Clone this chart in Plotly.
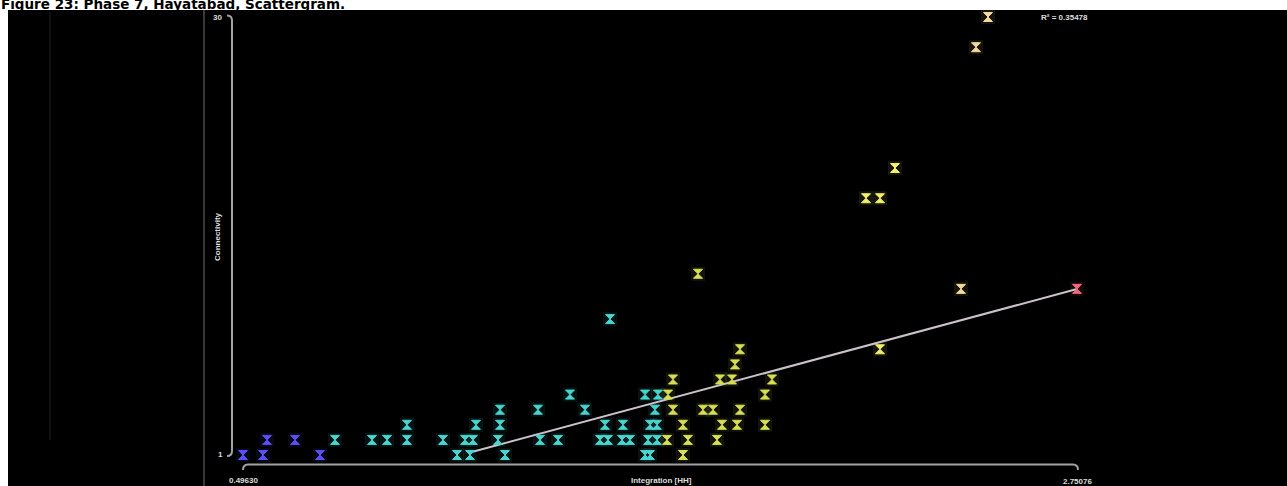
import plotly.graph_objects as go

W, H = 1287, 486

# Integration [HH] of each segment and its connectivity
integration = [
    # connectivity 1
    0.4963, 0.5504, 0.7044, 1.0748, 1.1099, 1.2045, 1.5830, 1.5965, 1.6857,
    # connectivity 2
    0.5612, 0.6369, 0.7450, 0.8450, 0.8856, 0.9396, 1.0369, 1.0964, 1.1180,
    1.1856, 1.2992, 1.3478, 1.4613, 1.4830, 1.5208, 1.5424, 1.5911, 1.6154,
    1.6425, 1.6992, 1.7776,
    # connectivity 3
    0.9396, 1.1261, 1.1910, 1.4749, 1.5235, 1.5965, 1.6154, 1.6857, 1.7911,
    1.8317, 1.9074,
    # connectivity 4
    1.1910, 1.2937, 1.4208, 1.6100, 1.6587, 1.7398, 1.7668, 1.8398,
    # connectivity 5
    1.3802, 1.5830, 1.6181, 1.6452, 1.9074,
    # connectivity 6
    1.6587, 1.7857, 1.8182, 1.9263,
    # connectivity 7 and above
    1.8263, 1.8398, 2.2182, 1.4884, 2.4372, 2.7508, 1.7263, 2.1804, 2.2182,
    2.2588, 2.4777, 2.5102,
]
connectivity = (
    [1] * 9 + [2] * 21 + [3] * 11 + [4] * 8 + [5] * 5 + [6] * 4
    + [7, 8, 8, 10, 12, 12, 13, 18, 18, 20, 28, 30]
)

# Least-squares line as drawn by the scattergram
reg_x = [1.1045, 2.7508]
reg_y = [1.13, 11.99]
r_squared_text = "R² = 0.35478"

x_tick_labels = ["0.49630", "2.75076"]
y_tick_labels = ["30", "1"]
x_title = "Integration [HH]"
y_title = "Connectivity"
title_text = "Figure 23: Phase 7, Hayatabad, Scattergram."

x_min, x_max = min(integration), max(integration)
y_min, y_max = 1, 30

# Screen placement of the data extent (pixels from top-left)
X_PX = (243, 1077)
Y_PX = (455, 17)

x_per_px = (x_max - x_min) / (X_PX[1] - X_PX[0])
y_per_px = (y_max - y_min) / (Y_PX[0] - Y_PX[1])
x_range = [x_min - X_PX[0] * x_per_px, x_min + (W - X_PX[0]) * x_per_px]
y_range = [y_min - (H - Y_PX[0]) * y_per_px, y_min + Y_PX[0] * y_per_px]


def px(x):
    return x / W


def py(y):
    return 1 - y / H


colorscale = [
    [0.00, "#5a4ff2"], [0.10, "#5a4ff2"],
    [0.10, "#46d6cf"], [0.505, "#46d6cf"],
    [0.505, "#d6df52"], [0.70, "#d6df52"],
    [0.70, "#f1f06a"], [0.83, "#f1f06a"],
    [0.83, "#f4d99a"], [0.95, "#f4d99a"],
    [0.95, "#f2667c"], [1.00, "#f2667c"],
]

fig = go.Figure()

# soft halo under each marker
fig.add_trace(go.Scatter(
    x=integration, y=connectivity, mode="markers", hoverinfo="skip",
    marker=dict(symbol="square", size=14, color=integration, colorscale=colorscale,
                cmin=x_min, cmax=x_max, opacity=0.09, line=dict(width=0)),
    showlegend=False,
))

fig.add_trace(go.Scatter(
    x=reg_x, y=reg_y, mode="lines",
    line=dict(color="#cbc2cb", width=2), showlegend=False, hoverinfo="skip",
))

fig.add_trace(go.Scatter(
    x=integration, y=connectivity, mode="markers",
    marker=dict(symbol="hourglass", size=9, color=integration, colorscale=colorscale,
                cmin=x_min, cmax=x_max,
                line=dict(width=1, color=integration, colorscale=colorscale,
                          cmin=x_min, cmax=x_max)),
    showlegend=False,
))

axis_grey = "#a3a3a3"
shapes = [
    # black canvas below the title strip
    dict(type="rect", xref="paper", yref="paper", x0=px(8), x1=1, y0=0, y1=py(10),
         fillcolor="black", line=dict(width=0), layer="below"),
    # faint guide lines on the left
    dict(type="line", xref="paper", yref="paper", x0=px(50), x1=px(50), y0=py(12), y1=py(440),
         line=dict(color="#161616", width=1.5), layer="below"),
    dict(type="line", xref="paper", yref="paper", x0=px(204), x1=px(204), y0=py(10), y1=0,
         line=dict(color="#4c4c4c", width=1.5), layer="below"),
    # vertical axis with curled ends
    dict(type="path", xref="paper", yref="paper",
         path=(f"M {px(227)},{py(15.5)} Q {px(232)},{py(15.5)} {px(232)},{py(20.5)} "
               f"L {px(232)},{py(451)} Q {px(232)},{py(456)} {px(227)},{py(456)}"),
         line=dict(color=axis_grey, width=2)),
    # horizontal axis with curled ends
    dict(type="path", xref="paper", yref="paper",
         path=(f"M {px(243)},{py(470)} Q {px(243)},{py(464.5)} {px(248)},{py(464.5)} "
               f"L {px(1073)},{py(464.5)} Q {px(1078)},{py(464.5)} {px(1078)},{py(470)}"),
         line=dict(color=axis_grey, width=2)),
]

label_font = dict(family="Liberation Sans", size=8, color="#dedede", weight="bold")
annotations = [
    dict(text=title_text, x=px(-1), y=py(3.6), xanchor="left", yanchor="middle",
         font=dict(family="DejaVu Sans", size=13.5, color="black", weight="bold")),
    dict(text=y_tick_labels[0], x=px(217), y=py(17)),
    dict(text=y_tick_labels[1], x=px(220), y=py(454)),
    dict(text=y_title, x=px(218), y=py(237), textangle=-90),
    dict(text=x_tick_labels[0], x=px(243), y=py(480)),
    dict(text=x_title, x=px(661), y=py(480)),
    dict(text=x_tick_labels[1], x=px(1077), y=py(481)),
    dict(text=r_squared_text, x=px(1064), y=py(17)),
]
for a in annotations:
    a.setdefault("xref", "paper")
    a.setdefault("yref", "paper")
    a.setdefault("showarrow", False)
    a.setdefault("xanchor", "center")
    a.setdefault("yanchor", "middle")
    a.setdefault("font", label_font)

fig.update_layout(
    width=W, height=H,
    margin=dict(l=0, r=0, t=0, b=0),
    paper_bgcolor="white", plot_bgcolor="white",
    xaxis=dict(range=x_range, visible=False, fixedrange=True),
    yaxis=dict(range=y_range, visible=False, fixedrange=True),
    shapes=shapes, annotations=annotations,
)

fig.write_html("out.html")
